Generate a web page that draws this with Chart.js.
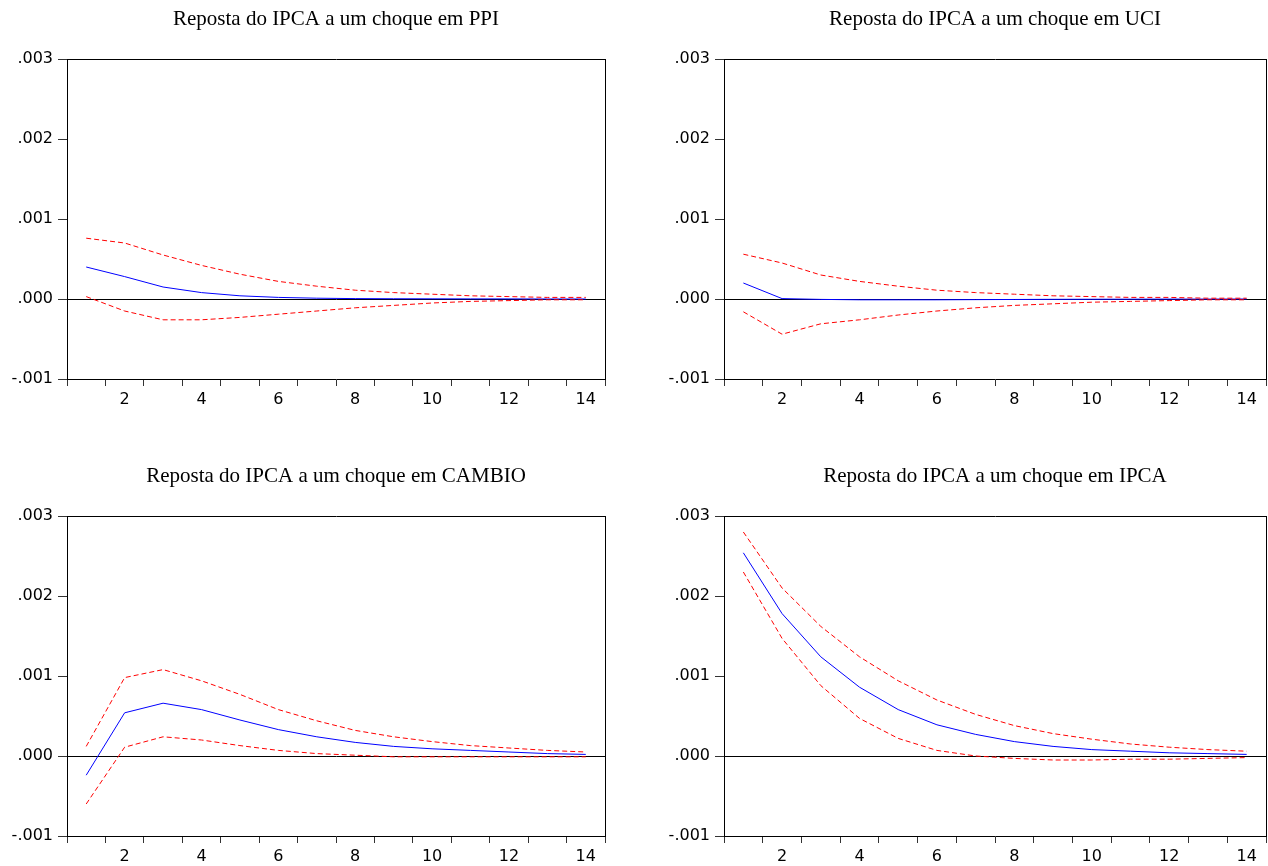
<!DOCTYPE html>
<html>
<head>
<meta charset="utf-8">
<script src="https://cdn.jsdelivr.net/npm/chart.js@4.4.1/dist/chart.umd.min.js"></script>
<style>
  html, body { margin: 0; padding: 0; background: #fff; width: 1268px; height: 866px; overflow: hidden; position: relative; }
  canvas { position: absolute; }
</style>
</head>
<body>
<canvas id="c1" width="672" height="409" style="left:0px;top:0px"></canvas>
<canvas id="c2" width="722" height="409" style="left:634px;top:0px"></canvas>
<canvas id="c3" width="672" height="409" style="left:0px;top:457px"></canvas>
<canvas id="c4" width="722" height="409" style="left:634px;top:457px"></canvas>
<script>
// ---- data ----
const periods = [1,2,3,4,5,6,7,8,9,10,11,12,13,14];
const yTicks = [-0.001, 0.000, 0.001, 0.002, 0.003];

const titles = [
  'Reposta do IPCA a um choque em PPI',
  'Reposta do IPCA a um choque em UCI',
  'Reposta do IPCA a um choque em CAMBIO',
  'Reposta do IPCA a um choque em IPCA'
];

const ppiResp  = [0.00040, 0.00028, 0.00015, 0.00008, 0.00004, 0.00002, 0.00001, 0.000005, 0.000003, 0.000002, 0.000001, 0.000001, 0.0, 0.0];
const ppiUpper = [0.00076, 0.00070, 0.00055, 0.00042, 0.00031, 0.00022, 0.00016, 0.00011, 0.00008, 0.00006, 0.00004, 0.00003, 0.00002, 0.00002];
const ppiLower = [0.00003, -0.00015, -0.00026, -0.00026, -0.00023, -0.00019, -0.00015, -0.00011, -0.00008, -0.00005, -0.00003, -0.00002, -0.00001, -0.00001];

const uciResp  = [0.00020, 0.000005, -0.000005, -0.00001, -0.00001, -0.00001, -0.000008, -0.000006, -0.000004, -0.000003, -0.000002, -0.000001, -0.000001, 0.0];
const uciUpper = [0.00056, 0.00045, 0.00030, 0.00022, 0.00016, 0.00011, 0.00008, 0.00006, 0.00004, 0.00003, 0.00002, 0.00002, 0.00001, 0.00001];
const uciLower = [-0.00016, -0.00044, -0.00031, -0.00026, -0.00020, -0.00015, -0.00011, -0.00008, -0.00006, -0.00004, -0.00003, -0.00002, -0.00001, -0.00001];

const cambioResp  = [-0.00024, 0.00054, 0.00066, 0.00058, 0.00045, 0.00033, 0.00024, 0.00017, 0.00012, 0.00009, 0.00007, 0.00005, 0.00003, 0.00002];
const cambioUpper = [0.00012, 0.00098, 0.00108, 0.00094, 0.00077, 0.00058, 0.00044, 0.00032, 0.00024, 0.00018, 0.00013, 0.00010, 0.00007, 0.00005];
const cambioLower = [-0.00060, 0.00011, 0.00024, 0.00020, 0.00013, 0.00007, 0.00003, 0.00001, -0.00001, -0.00001, -0.00001, -0.00001, -0.00001, -0.00001];

const ipcaResp  = [0.00254, 0.00178, 0.00124, 0.00086, 0.00058, 0.00039, 0.00027, 0.00018, 0.00012, 0.00008, 0.00006, 0.00004, 0.00003, 0.00002];
const ipcaUpper = [0.00280, 0.00210, 0.00162, 0.00124, 0.00094, 0.00070, 0.00052, 0.00038, 0.00028, 0.00021, 0.00015, 0.00011, 0.00008, 0.00006];
const ipcaLower = [0.00230, 0.00147, 0.00088, 0.00047, 0.00022, 0.00007, 0.00000, -0.00003, -0.00005, -0.00005, -0.00004, -0.00004, -0.00003, -0.00002];

// ---- drawing ----
function fmtY(v) {
  const s = Number(v).toFixed(3);
  return s.replace('0.', '.');
}

const tickFont = { family: "'DejaVu Sans', 'Liberation Sans', Arial, sans-serif", size: 16 };

function makePanel(id, title, resp, upper, lower, yWidth) {
  const ctx = document.getElementById(id).getContext('2d');
  return new Chart(ctx, {
    type: 'line',
    data: {
      labels: periods.map(String),
      datasets: [
        { data: upper, borderColor: '#ff0000', borderWidth: 1, borderDash: [5, 3], pointRadius: 0, fill: false, tension: 0 },
        { data: lower, borderColor: '#ff0000', borderWidth: 1, borderDash: [5, 3], pointRadius: 0, fill: false, tension: 0 },
        { data: resp, borderColor: '#0000ff', borderWidth: 1, pointRadius: 0, fill: false, tension: 0 }
      ]
    },
    options: {
      responsive: false,
      devicePixelRatio: 1,
      animation: false,
      events: [],
      layout: { padding: { left: 0, right: 0, top: 0, bottom: 0 } },
      plugins: {
        legend: { display: false },
        tooltip: { enabled: false },
        title: {
          display: true,
          text: title,
          color: '#000',
          font: { family: "'Liberation Serif', 'Times New Roman', serif", size: 21, weight: 'normal' },
          padding: { top: 7, bottom: 26.8 }
        }
      },
      scales: {
        x: {
          type: 'category',
          position: 'bottom',
          offset: true,
          grid: { offset: true, drawOnChartArea: false, drawTicks: true, tickLength: 7, color: '#000', tickColor: '#333' },
          border: { display: true, color: '#000', width: 1 },
          ticks: {
            autoSkip: false, maxRotation: 0, minRotation: 0, padding: 4,
            color: '#000',
            font: tickFont,
            callback: function (val, i) { return periods[i] % 2 === 0 ? String(periods[i]) : ''; }
          },
          afterFit: function (s) { s.height = 30; }
        },
        x2: {
          type: 'category',
          position: 'top',
          grid: { display: false },
          border: { display: true, color: '#000', width: 1 },
          ticks: { display: false },
          afterFit: function (s) { s.height = 0; }
        },
        y: {
          position: 'left',
          min: yTicks[0],
          max: yTicks[yTicks.length - 1],
          afterBuildTicks: function (s) { s.ticks = yTicks.map(v => ({ value: v })); },
          grid: {
            drawOnChartArea: true, drawTicks: true, tickLength: 9,
            color: function (c) { return (c.tick && Math.abs(c.tick.value) < 1e-12) ? '#000' : 'rgba(0,0,0,0)'; },
            tickColor: '#333'
          },
          border: { display: true, color: '#000', width: 1 },
          ticks: {
            padding: 5,
            color: '#000',
            font: tickFont,
            callback: function (v) { return fmtY(v); }
          },
          afterFit: function (s) { s.width = yWidth; }
        },
        y2: {
          position: 'right',
          min: yTicks[0],
          max: yTicks[yTicks.length - 1],
          grid: { display: false },
          border: { display: true, color: '#000', width: 1 },
          ticks: { display: false },
          afterFit: function (s) { s.width = yWidth; }
        }
      }
    }
  });
}

makePanel('c1', titles[0], ppiResp, ppiUpper, ppiLower, 67);
makePanel('c2', titles[1], uciResp, uciUpper, uciLower, 90);
makePanel('c3', titles[2], cambioResp, cambioUpper, cambioLower, 67);
makePanel('c4', titles[3], ipcaResp, ipcaUpper, ipcaLower, 90);
</script>
</body>
</html>
